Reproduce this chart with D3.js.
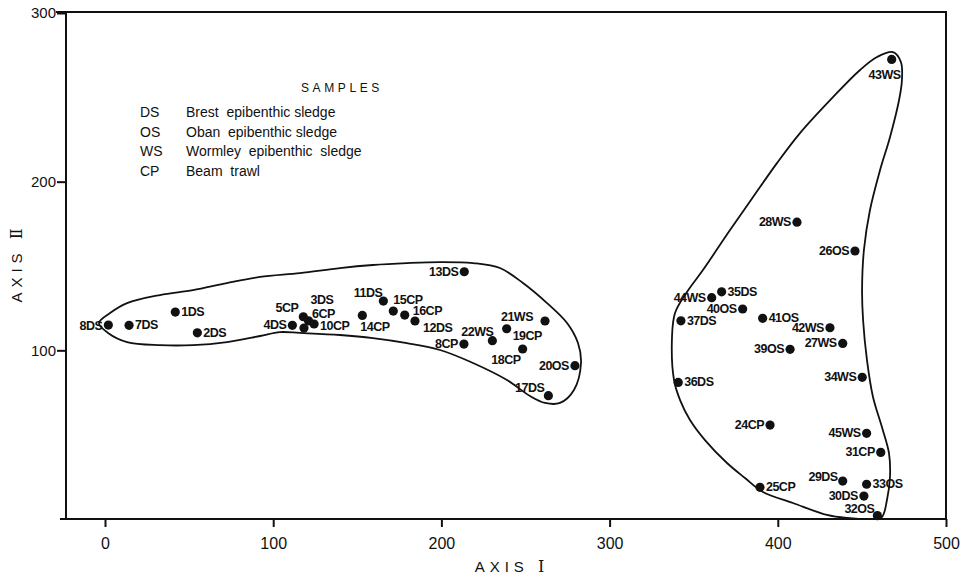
<!DOCTYPE html>
<html>
<head>
<meta charset="utf-8">
<script src="https://cdn.jsdelivr.net/npm/d3@7"></script>
<style>
  body { margin: 0; background: #fff; }
  svg { display: block; font-family: "Liberation Sans", Arial, sans-serif; }
</style>
</head>
<body>
<svg id="chart" width="965" height="582"></svg>
<script>
// ---- data
const sampleIds   = [1, 2, 3, 4, 5, 6, 7, 8, 8, 10, 11, 12, 13, 14, 15, 16, 17, 18, 19, 20, 21, 22,
                     24, 25, 26, 27, 28, 29, 30, 31, 32, 33, 34, 35, 36, 37, 39, 40, 41, 42, 43, 44, 45];
const sampleTypes = ["DS","DS","DS","DS","CP","CP","DS","DS","CP","CP","DS","DS","DS","CP","CP","CP","DS","CP","CP","OS","WS","WS",
                     "CP","CP","OS","WS","WS","DS","DS","CP","OS","OS","WS","DS","DS","DS","OS","OS","OS","WS","WS","WS","WS"];
const axis1 = [41.8, 54.9, 121, 111.4, 117.9, 118.3, 14.3, 2.0, 213.4, 124.3, 165.5, 184.3, 213.6, 153, 171.4, 178.2, 263.6, 248.3, 238.8, 279.4, 261.6, 230.3,
               395.4, 389.4, 445.9, 438.6, 411.4, 438.6, 451.2, 461.2, 459.2, 452.8, 450.2, 366.6, 340.8, 342.4, 407.3, 379.1, 391, 431, 467.7, 360.7, 452.8];
const axis2 = [122.7, 110.4, 117.5, 114.8, 119.9, 113.2, 114.8, 115, 103.7, 115.6, 129.2, 117.4, 146.6, 120.7, 123.3, 120.9, 73.1, 100.8, 112.8, 90.9, 117.4, 105.7,
               55.7, 18.8, 158.9, 104.1, 176, 22.5, 13.6, 39.5, 2, 20.6, 84, 134.7, 81, 117.5, 100.6, 124.5, 119, 113.4, 272.5, 131.2, 50.8];

// hand drawn group outlines (axis I, axis II)
const groupA_x = [-3.6, 3.0, 13.1, 32.7, 52.3, 72.5, 92.2, 115.9, 139.7, 159.3, 179.5, 199.2, 218.8, 234.8, 248.5, 262.8, 274.7, 281.2, 283.0, 278.8, 270.5, 261.6,
                  252.7, 239.0, 218.8, 199.2, 179.5, 159.3, 139.7, 115.9, 104.0, 92.2, 72.5, 52.3, 32.7, 13.1, 1.8];
const groupA_y = [116.2, 122.1, 128.0, 132.8, 135.7, 139.9, 143.5, 145.8, 148.8, 150.6, 151.7, 152.3, 151.7, 148.8, 139.9, 128.0, 116.2, 104.3, 92.5, 76.5, 68.8, 68.8,
                  72.9, 82.4, 92.5, 100.2, 104.3, 107.3, 109.1, 110.3, 110.8, 108.5, 104.9, 103.1, 103.1, 104.9, 110.3];
const groupB_x = [468.5, 473.2, 473.8, 472.1, 466.7, 460.8, 454.8, 451.2, 450.1, 450.7, 453.0, 456.6, 461.9, 466.1, 466.7, 464.9, 461.9, 456.6, 441.1, 429.2,
                  409.0, 391.2, 380.5, 369.8, 356.7, 347.8, 341.9, 338.3, 337.1, 338.9, 346.0, 355.5, 371.6, 385.3, 399.5, 413.2, 432.8, 448.9, 459.0];
const groupB_y = [276.8, 270.9, 260.2, 248.4, 226.4, 206.9, 183.2, 159.5, 135.7, 118.0, 94.3, 72.3, 54.5, 39.1, 24.9, 11.3, 1.2, 0, 0.6, 2.4,
                  9.5, 16.0, 24.3, 33.2, 46.8, 58.7, 70.5, 82.4, 107.9, 122.1, 134.6, 147.6, 171.3, 190.9, 211.0, 228.8, 250.1, 266.2, 273.9];

const xTicks = [0, 100, 200, 300, 400, 500];
const yTicks = [100, 200, 300];

const legendCodes = ["DS", "OS", "WS", "CP"];
const legendNames = ["Brest  epibenthic sledge", "Oban  epibenthic sledge", "Wormley  epibenthic  sledge", "Beam  trawl"];

// where each label sits relative to its dot  [dx, dy, anchor]
const L = [-6, 4, "end"], R = [6, 4, "start"];
const labelPlace = {
  "1DS": R, "2DS": R, "3DS": [2, -17, "start"], "4DS": L, "5CP": [-5, -5, "end"], "6CP": [8, -10, "start"],
  "7DS": R, "8DS": [-6, 5, "end"], "8CP": L, "10CP": [6, 6, "start"], "11DS": [-1, -4, "end"], "12DS": [8, 11, "start"],
  "13DS": L, "14CP": [-2, 16, "start"], "15CP": [0, -7, "start"], "16CP": [8, 0, "start"], "17DS": [-4, -4, "end"],
  "18CP": [-2, 15, "end"], "19CP": [6, 11, "start"], "20OS": L, "21WS": [-12, 0, "end"], "22WS": [1, -5, "end"],
  "24CP": L, "25CP": R, "26OS": L, "27WS": L, "28WS": L, "29DS": [-5, 0, "end"], "30DS": L, "31CP": L,
  "32OS": [-3, -3, "end"], "33OS": R, "34WS": L, "35DS": R, "36DS": R, "37DS": R, "39OS": L, "40OS": L,
  "41OS": R, "42WS": L, "43WS": [9, 20, "end"], "44WS": L, "45WS": L
};

// ---- chart
const svg = d3.select("#chart");

const frame = {left: 66, right: 946, top: 12, bottom: 519};
const x = d3.scaleLinear().domain([0, 500]).range([105, 946]);
const y = d3.scaleLinear().domain([0, 300]).range([519, 13]);

// box
svg.append("path")
  .attr("d", `M${frame.left},${frame.top} H${frame.right} V${frame.bottom} H60 M${frame.left},${frame.bottom} V${frame.top} H56`)
  .attr("fill", "none").attr("stroke", "#111").attr("stroke-width", 2);

// axes
const xAxis = svg.append("g")
  .attr("transform", `translate(0,${frame.bottom})`)
  .call(d3.axisBottom(x).tickValues(xTicks).tickSize(8).tickPadding(8).tickFormat(d3.format("d")));
const yAxis = svg.append("g")
  .attr("transform", `translate(${frame.left},0)`)
  .call(d3.axisLeft(y).tickValues(yTicks).tickSize(9).tickPadding(1).tickFormat(d3.format("d")));

for (let ax of [xAxis, yAxis]) {
  ax.select(".domain").remove();
  ax.selectAll(".tick line").attr("stroke", "#111").attr("stroke-width", 2);
  ax.selectAll(".tick text").attr("fill", "#111").attr("font-size", 16)
    .attr("font-family", "'Liberation Sans', Arial, sans-serif");
}
yAxis.selectAll(".tick text").attr("font-size", 15);
xAxis.selectAll(".tick text").attr("dy", "0.9em");

// axis titles (roman numerals set in a serif face, like the original)
const xt = svg.append("text")
  .attr("x", 512).attr("y", 572)
  .attr("text-anchor", "middle").attr("font-size", 15).attr("letter-spacing", 5).attr("fill", "#111");
xt.append("tspan").text("AXIS ");
xt.append("tspan").attr("font-family", "'DejaVu Serif', 'Liberation Serif', serif").attr("font-size", 16).text("Ⅰ");

const yt = svg.append("text")
  .attr("transform", "translate(22,263) rotate(-90)")
  .attr("text-anchor", "middle").attr("font-size", 15).attr("letter-spacing", 5).attr("fill", "#111");
yt.append("tspan").text("AXIS ");
yt.append("tspan").attr("font-family", "'DejaVu Serif', 'Liberation Serif', serif").attr("font-size", 16).text("Ⅱ");

// group outlines
const outline = d3.line()
  .x(d => x(d[0])).y(d => y(d[1]))
  .curve(d3.curveCatmullRomClosed.alpha(0.5));
for (let g of [[groupA_x, groupA_y], [groupB_x, groupB_y]]) {
  svg.append("path")
    .attr("d", outline(d3.zip(g[0], g[1])))
    .attr("fill", "none").attr("stroke", "#111").attr("stroke-width", 1.8);
}

// samples
const samples = sampleIds.map((id, i) => ({id: id, type: sampleTypes[i], a1: axis1[i], a2: axis2[i]}));

svg.append("g").selectAll("circle").data(samples).join("circle")
  .attr("cx", d => x(d.a1)).attr("cy", d => y(d.a2))
  .attr("r", 4.6).attr("fill", "#111");

svg.append("g").selectAll("text").data(samples).join("text")
  .each(function(d) {
    let p = labelPlace[d.id + d.type] || R;
    d3.select(this)
      .attr("x", x(d.a1) + p[0]).attr("y", y(d.a2) + p[1])
      .attr("text-anchor", p[2]);
  })
  .attr("font-size", 12.5).attr("font-weight", "bold").attr("letter-spacing", -0.5)
  .attr("fill", "#111")
  .text(d => d.id + d.type);

// legend
svg.append("text")
  .attr("x", 301).attr("y", 92)
  .attr("font-size", 12).attr("letter-spacing", 3.6).attr("fill", "#111")
  .text("SAMPLES");

const leg = svg.append("g");
legendCodes.forEach((c, i) => {
  leg.append("text").attr("x", 140).attr("y", 117 + i * 19.7)
    .attr("font-size", 14).attr("fill", "#111").text(c);
  leg.append("text").attr("x", 186).attr("y", 117 + i * 19.7)
    .attr("font-size", 14).attr("fill", "#111")
    .style("white-space", "pre").text(legendNames[i]);
});
</script>
</body>
</html>
